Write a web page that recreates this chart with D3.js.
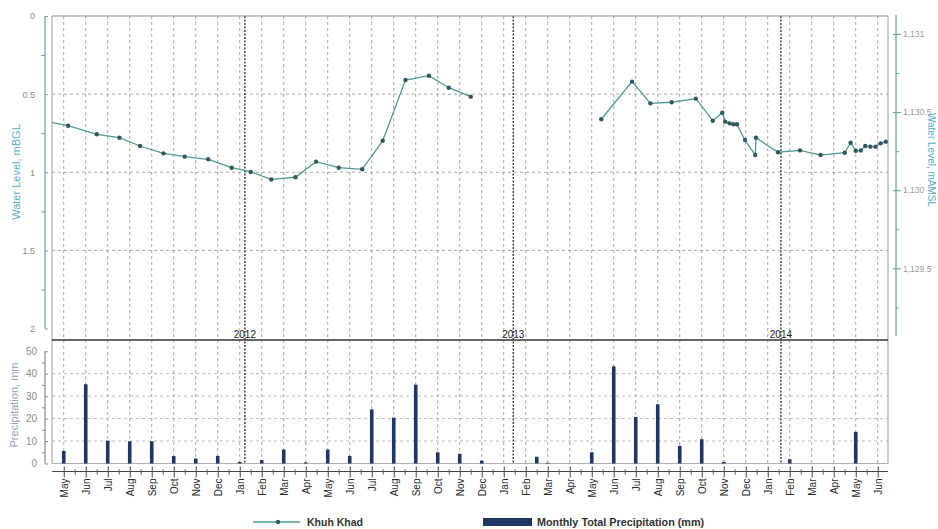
<!DOCTYPE html>
<html><head><meta charset="utf-8">
<script src="https://cdn.jsdelivr.net/npm/d3@7"></script>
<style>
html,body{margin:0;padding:0;background:#fff;}
svg{display:block;font-family:"Liberation Sans",Arial,sans-serif;}
</style></head><body>
<svg id="chart" width="938" height="529"></svg>
<script>
// Month tick labels along the time axis (ticks every 30 days from tickOrigin)
const monthLabels = ["May","Jun","Jul","Aug","Sep","Oct","Nov","Dec",
  "Jan","Feb","Mar","Apr","May","Jun","Jul","Aug","Sep","Oct","Nov","Dec",
  "Jan","Feb","Mar","Apr","May","Jun","Jul","Aug","Sep","Oct","Nov","Dec",
  "Jan","Feb","Mar","Apr","May","Jun"];
const tickOrigin = "2011-04-29";
const tickStepDays = 30;
const yearLabels = ["2012","2013","2014"];
const yearStarts = ["2012-01-01","2013-01-01","2014-01-01"];

// Khuh Khad water level (m below ground level); null marks the data gap
const levelDates = ["2011-04-04","2011-05-05","2011-06-13","2011-07-14","2011-08-11","2011-09-12",
  "2011-10-11","2011-11-12","2011-12-14","2012-01-09","2012-02-06","2012-03-10","2012-04-07",
  "2012-05-08","2012-06-09","2012-07-07","2012-08-07","2012-09-08","2012-10-05","2012-11-04",
  "2013-01-15",
  "2013-05-01","2013-06-12","2013-07-07","2013-08-05","2013-09-07","2013-09-30","2013-10-13",
  "2013-10-17","2013-10-23","2013-10-28","2013-11-02","2013-11-13","2013-11-27","2013-11-28",
  "2013-12-28","2014-01-27","2014-02-24","2014-03-29","2014-04-06","2014-04-13","2014-04-20",
  "2014-04-26","2014-05-03","2014-05-10","2014-05-17","2014-05-24"];
const levelMbgl = [0.674,0.702,0.757,0.779,0.832,0.879,
  0.900,0.917,0.971,0.998,1.046,1.032,0.932,
  0.971,0.981,0.798,0.410,0.382,0.459,0.516,
  null,
  0.661,0.420,0.559,0.552,0.529,0.670,0.619,
  0.676,0.687,0.693,0.693,0.794,0.890,0.779,
  0.872,0.860,0.890,0.875,0.811,0.862,0.860,
  0.832,0.836,0.836,0.815,0.804];

// Monthly total precipitation (mm)
const precipDates = ["2011-04-29","2011-05-29","2011-06-28","2011-07-28","2011-08-27","2011-09-26",
  "2011-10-26","2011-11-25","2011-12-25","2012-01-24","2012-02-23","2012-03-24","2012-04-23",
  "2012-05-23","2012-06-22","2012-07-22","2012-08-21","2012-09-20","2012-10-20","2012-11-19",
  "2013-02-02","2013-02-17","2013-04-18","2013-05-18","2013-06-17","2013-07-17","2013-08-16",
  "2013-09-15","2013-10-15","2014-01-13","2014-04-13"];
const precipMm = [5.6,35.3,10.1,9.9,9.9,3.3,
  2.2,3.4,0.7,1.5,6.2,0.5,6.2,
  3.4,24.1,20.4,35.1,5.0,4.3,1.3,
  3.0,0.3,5.0,43.3,20.7,26.4,7.9,
  10.8,0.7,1.9,14.1];

const depthTicks = [0,0.5,1,1.5,2];
const depthMinor = [0.25,0.75,1.25,1.75];
const elevTicks = [1129.5,1130,1130.5,1131];
const elevMinor = [1129.25,1129.75,1130.25,1130.75];
const precipTicks = [0,10,20,30,40,50];
const precipMinor = [5,15,25,35,45];

const parse = d3.utcParse("%Y-%m-%d");
const svg = d3.select("#chart");

const L = 52, R = 888, T = 16, SPLIT = 340, B = 463.5, XAXIS = 471.5;

const x = d3.scaleUtc().domain([parse("2011-04-13"), parse("2014-05-27")]).range([L, R]);
const yDepth = d3.scaleLinear().domain([0, 2]).range([T, 328.5]);
const groundElev = 1131.115;
const yElev = d3.scaleLinear().domain([groundElev, groundElev - 2]).range([T, 328.5]);
const yPrecip = d3.scaleLinear().domain([0, 55]).range([B, SPLIT]);

const origin = parse(tickOrigin);
const monthTicks = monthLabels.map((_, i) => d3.utcDay.offset(origin, tickStepDays * i));
const halfTicks = monthLabels.slice(0, -1).map((_, i) => d3.utcDay.offset(origin, tickStepDays * i + 15));

const levels = levelDates.map((d, i) => ({date: parse(d), v: levelMbgl[i]}));
const precip = precipDates.map((d, i) => ({date: parse(d), v: precipMm[i]}));

svg.append("defs").append("clipPath").attr("id", "plotClip")
  .append("rect").attr("x", L).attr("y", T).attr("width", R - L).attr("height", SPLIT - T);

// grid: vertical monthly lines
const grid = svg.append("g");
grid.selectAll("line.v").data(monthTicks).join("line")
  .attr("x1", d => x(d)).attr("x2", d => x(d)).attr("y1", T).attr("y2", B)
  .attr("stroke", "#929292").attr("stroke-width", 0.8).attr("stroke-dasharray", "3,3");
// horizontal grid, water level panel
grid.selectAll("line.hd").data([0.5, 1, 1.5]).join("line")
  .attr("x1", L).attr("x2", R).attr("y1", d => yDepth(d)).attr("y2", d => yDepth(d))
  .attr("stroke", "#929292").attr("stroke-width", 0.8).attr("stroke-dasharray", "3,3");
// horizontal grid, precipitation panel
grid.selectAll("line.hp").data([10, 20, 30, 40]).join("line")
  .attr("x1", L).attr("x2", R).attr("y1", d => yPrecip(d)).attr("y2", d => yPrecip(d))
  .attr("stroke", "#a8a8a8").attr("stroke-width", 0.8).attr("stroke-dasharray", "3,3");

// year dividers
const years = yearStarts.map((d, i) => ({date: parse(d), label: yearLabels[i]}));
svg.append("g").selectAll("line").data(years).join("line")
  .attr("x1", d => x(d.date)).attr("x2", d => x(d.date)).attr("y1", T).attr("y2", B)
  .attr("stroke", "#3a3a3a").attr("stroke-width", 1.4).attr("stroke-dasharray", "2,1.5");
svg.append("g").selectAll("text").data(years).join("text")
  .attr("x", d => x(d.date)).attr("y", 337.5).attr("text-anchor", "middle")
  .attr("font-size", 10).attr("fill", "#222").text(d => d.label);

// frame
const frame = svg.append("g");
frame.append("line").attr("x1", L).attr("x2", R).attr("y1", T).attr("y2", T).attr("stroke", "#8c8c8c");
frame.append("line").attr("x1", L).attr("x2", L).attr("y1", T).attr("y2", B).attr("stroke", "#9c9c9c");
frame.append("line").attr("x1", R).attr("x2", R).attr("y1", T).attr("y2", B).attr("stroke", "#9c9c9c");
frame.append("line").attr("x1", L).attr("x2", R).attr("y1", B).attr("y2", B).attr("stroke", "#b0b0b0");
frame.append("line").attr("x1", L).attr("x2", R).attr("y1", SPLIT).attr("y2", SPLIT)
  .attr("stroke", "#333").attr("stroke-width", 1.5);

// precipitation bars
const barW = 3.6;
svg.append("g").selectAll("rect").data(precip).join("rect")
  .attr("x", d => x(d.date) - barW / 2).attr("width", barW)
  .attr("y", d => yPrecip(d.v)).attr("height", d => yPrecip(0) - yPrecip(d.v))
  .attr("fill", "#1f3563");

// water level line and markers
const lineGen = d3.line().defined(d => d.v != null).x(d => x(d.date)).y(d => yDepth(d.v));
const wl = svg.append("g").attr("clip-path", "url(#plotClip)");
wl.append("path").datum(levels).attr("d", lineGen)
  .attr("fill", "none").attr("stroke", "#4f9a92").attr("stroke-width", 1.3);
wl.selectAll("circle").data(levels.filter(d => d.v != null)).join("circle")
  .attr("cx", d => x(d.date)).attr("cy", d => yDepth(d.v)).attr("r", 2.2)
  .attr("fill", "#2f5862");

// axis styling helper
function styleAxis(g, color, labelColor, size) {
  g.select(".domain").remove();
  g.selectAll(".tick line").attr("stroke", color);
  g.selectAll(".tick text").attr("fill", labelColor).attr("font-size", size || 9)
    .attr("font-family", "Liberation Sans, Arial, sans-serif");
}

// left axis, water level
const axL = svg.append("g").attr("transform", "translate(45,0)")
  .call(d3.axisLeft(yDepth).tickValues(depthTicks).tickFormat(d3.format("")).tickSize(8).tickPadding(2));
styleAxis(axL, "#6b9fa8", "#8a8a8a");
axL.selectAll(".tick line").attr("x2", 3);
svg.append("g").attr("transform", "translate(45,0)")
  .call(d3.axisLeft(yDepth).tickValues(depthMinor).tickFormat("").tickSize(4))
  .call(g => { g.select(".domain").remove(); g.selectAll("line").attr("stroke", "#6b9fa8"); });
svg.append("line").attr("x1", 45).attr("x2", 45).attr("y1", yDepth(0)).attr("y2", yDepth(2))
  .attr("stroke", "#6b9fa8").attr("stroke-width", 1.2);

// right axis, elevation
const axR = svg.append("g").attr("transform", "translate(896,0)")
  .call(d3.axisRight(yElev).tickValues(elevTicks).tickFormat(d3.format(",")).tickSize(5).tickPadding(2));
styleAxis(axR, "#5f9e9e", "#9a9a9a", 8.5);
axR.selectAll(".tick line").attr("x1", -3);
svg.append("g").attr("transform", "translate(896,0)")
  .call(d3.axisRight(yElev).tickValues(elevMinor).tickFormat("").tickSize(3))
  .call(g => { g.select(".domain").remove(); g.selectAll("line").attr("stroke", "#5f9e9e"); });
svg.append("line").attr("x1", 896).attr("x2", 896).attr("y1", 15).attr("y2", 336)
  .attr("stroke", "#5f9e9e").attr("stroke-width", 1.2);

// left axis, precipitation
const axP = svg.append("g").attr("transform", "translate(45,0)")
  .call(d3.axisLeft(yPrecip).tickValues(precipTicks).tickFormat(d3.format("")).tickSize(6).tickPadding(2));
styleAxis(axP, "#8a8a8a", "#8a8a8a", 10);
axP.selectAll(".tick line").attr("x2", 3);
svg.append("g").attr("transform", "translate(45,0)")
  .call(d3.axisLeft(yPrecip).tickValues(precipMinor).tickFormat("").tickSize(3))
  .call(g => { g.select(".domain").remove(); g.selectAll("line").attr("stroke", "#8a8a8a"); });
svg.append("line").attr("x1", 45).attr("x2", 45).attr("y1", yPrecip(50)).attr("y2", yPrecip(0))
  .attr("stroke", "#8a8a8a").attr("stroke-width", 1.2);

// bottom time axis
const axX = svg.append("g").attr("transform", `translate(0,${XAXIS})`)
  .call(d3.axisBottom(x).tickValues(monthTicks).tickFormat((d, i) => monthLabels[i]).tickSize(6).tickSizeOuter(0));
axX.select(".domain").attr("stroke", "#444").attr("d", `M${L},0H${R}`);
axX.selectAll(".tick line").attr("y1", -5).attr("stroke", "#444");
axX.selectAll(".tick text")
  .attr("transform", "rotate(-90)").attr("text-anchor", "end")
  .attr("x", -7).attr("y", 0).attr("dy", "0.35em")
  .attr("font-size", 10).attr("fill", "#2a2a2a")
  .attr("font-family", "Liberation Sans, Arial, sans-serif");
svg.append("g").attr("transform", `translate(0,${XAXIS})`)
  .call(d3.axisBottom(x).tickValues(halfTicks).tickFormat("").tickSize(3))
  .call(g => { g.select(".domain").remove(); g.selectAll("line").attr("stroke", "#555").attr("y1", -2); });

// axis titles
svg.append("text").attr("transform", "translate(20,172) rotate(-90)").attr("text-anchor", "middle")
  .attr("font-size", 11).attr("fill", "#5aaec6").text("Water Level, mBGL");
svg.append("text").attr("transform", "translate(18,405) rotate(-90)").attr("text-anchor", "middle")
  .attr("font-size", 11).attr("fill", "#8ea5bd").text("Precipitation, mm");
svg.append("text").attr("transform", "translate(928,160) rotate(90)").attr("text-anchor", "middle")
  .attr("font-size", 10).attr("fill", "#5aaec6").text("Water Level, mAMSL");

// legend
const lg = svg.append("g");
lg.append("line").attr("x1", 253).attr("x2", 300).attr("y1", 522).attr("y2", 522)
  .attr("stroke", "#4f9a92").attr("stroke-width", 1.3);
lg.append("circle").attr("cx", 278).attr("cy", 522).attr("r", 2.2).attr("fill", "#2f5862");
lg.append("text").attr("x", 307).attr("y", 525.5).attr("font-size", 10.5).attr("font-weight", "bold")
  .attr("fill", "#333").text("Khuh Khad");
lg.append("rect").attr("x", 483).attr("y", 518).attr("width", 49).attr("height", 8).attr("fill", "#1f3563");
lg.append("text").attr("x", 537).attr("y", 525.5).attr("font-size", 10.8).attr("font-weight", "bold")
  .attr("fill", "#333").text("Monthly Total Precipitation (mm)");
</script>
</body></html>
